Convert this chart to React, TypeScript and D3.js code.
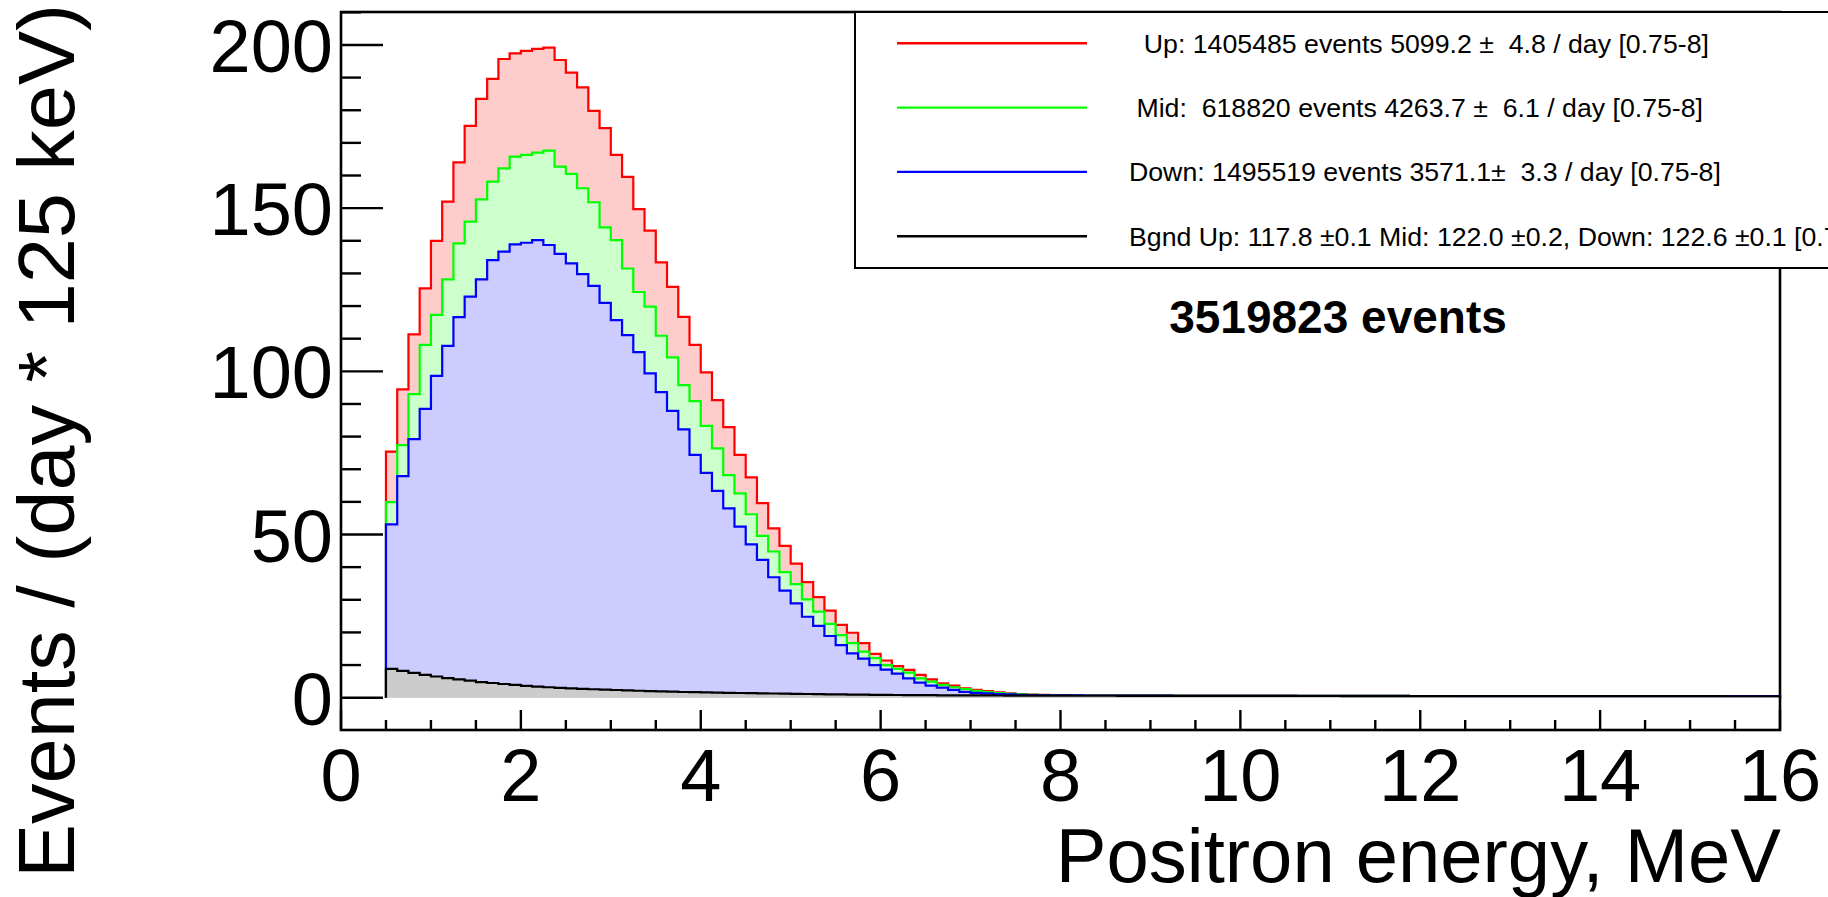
import React from "react";
import * as d3 from "d3";

// ---- data (Events per day per 125 keV bin), bins start at 0.5 MeV, width 0.125 MeV ----
const binStart = 0.5;
const binWidth = 0.125;

const upHead = [
  75.4, 94.5, 111.3, 125.4, 140.0, 152.0, 164.0, 175.2, 183.5, 189.6,
  195.7, 197.4, 198.2, 198.8, 199.2, 195.4, 191.5, 187.0, 179.8, 174.5,
  166.3, 159.6, 149.7, 143.1, 133.4, 125.9, 116.7, 108.1, 99.7, 91.2,
  82.9, 74.4, 67.5, 59.6, 51.9, 46.5, 41.1, 35.4, 30.8, 26.7,
  22.3, 19.9, 16.7, 13.4, 11.4, 9.7, 8.5, 7.0, 5.6, 4.4,
  3.7, 2.9, 2.4, 2.0, 1.6, 1.3, 1.1, 0.95, 0.85, 0.75,
];
const midHead = [
  59.9, 77.4, 93.0, 108.1, 117.3, 128.2, 139.2, 145.9, 152.7, 158.1,
  162.2, 165.8, 166.3, 167.0, 167.6, 162.7, 160.5, 156.1, 151.8, 144.1,
  140.2, 131.5, 124.3, 119.8, 110.9, 104.3, 95.8, 90.9, 83.3, 76.4,
  68.2, 62.6, 56.2, 49.6, 44.8, 38.5, 34.8, 30.1, 26.4, 22.6,
  19.2, 16.7, 14.1, 12.1, 10.0, 8.8, 7.7, 5.9, 4.9, 3.9,
  3.2, 2.6, 2.1, 1.7, 1.4, 1.2, 1.0, 0.9, 0.8, 0.75,
];
const downHead = [
  53.1, 67.9, 79.2, 88.5, 98.6, 107.8, 116.6, 122.9, 128.2, 134.1,
  136.7, 138.9, 139.4, 140.2, 138.7, 136.0, 133.1, 129.8, 126.2, 121.0,
  115.7, 111.1, 105.9, 99.4, 93.6, 87.9, 82.2, 74.4, 68.9, 63.4,
  58.0, 52.4, 47.0, 42.2, 36.9, 32.8, 28.9, 24.8, 22.0, 18.9,
  16.1, 13.6, 12.0, 10.0, 8.6, 7.4, 5.9, 4.6, 3.7, 3.1,
  2.4, 1.8, 1.5, 1.3, 1.1, 1.0, 0.9, 0.8, 0.75, 0.7,
];
// common high-energy tail (8 - 16 MeV) of the three detector positions
const signalTail = [
  0.70, 0.68, 0.67, 0.66, 0.65, 0.64, 0.63, 0.62, 0.62, 0.61,
  0.60, 0.60, 0.59, 0.59, 0.58, 0.58, 0.57, 0.57, 0.56, 0.56,
  0.56, 0.55, 0.55, 0.55, 0.54, 0.54, 0.54, 0.53, 0.53, 0.53,
  0.53, 0.52, 0.52, 0.52, 0.52, 0.51, 0.51, 0.51, 0.51, 0.50,
  0.50, 0.50, 0.50, 0.50, 0.49, 0.49, 0.49, 0.49, 0.49, 0.48,
  0.48, 0.48, 0.48, 0.48, 0.48, 0.47, 0.47, 0.47, 0.47, 0.47,
  0.47, 0.46, 0.46, 0.46,
];
const bgnd = [
  8.8, 8.2, 7.6, 7.0, 6.5, 6.0, 5.6, 5.2, 4.8, 4.5,
  4.2, 3.9, 3.65, 3.4, 3.2, 3.0, 2.85, 2.7, 2.58, 2.46,
  2.35, 2.24, 2.13, 2.03, 1.93, 1.83, 1.74, 1.68, 1.62, 1.56,
  1.5, 1.44, 1.38, 1.33, 1.28, 1.23, 1.18, 1.13, 1.08, 1.04,
  1.0, 0.96, 0.92, 0.88, 0.85, 0.82, 0.8, 0.78, 0.76, 0.74,
  0.72, 0.7, 0.69, 0.68, 0.67, 0.66, 0.65, 0.64, 0.63, 0.62,
  0.61, 0.60, 0.60, 0.59, 0.59, 0.58, 0.58, 0.57, 0.57, 0.56,
  0.56, 0.56, 0.55, 0.55, 0.55, 0.54, 0.54, 0.54, 0.53, 0.53,
  0.53, 0.52, 0.52, 0.52, 0.52, 0.51, 0.51, 0.51, 0.51, 0.50,
  0.50, 0.50, 0.50, 0.49, 0.49, 0.49, 0.49, 0.48, 0.48, 0.48,
  0.48, 0.48, 0.47, 0.47, 0.47, 0.47, 0.47, 0.46, 0.46, 0.46,
  0.46, 0.46, 0.46, 0.45, 0.45, 0.45, 0.45, 0.45, 0.45, 0.44,
  0.44, 0.44, 0.44, 0.44,
];

const upVals = upHead.concat(signalTail);
const midVals = midHead.concat(signalTail);
const downVals = downHead.concat(signalTail);

const xTicksMajor = [0, 2, 4, 6, 8, 10, 12, 14, 16];
const yTicksMajor = [0, 50, 100, 150, 200];

const legendLabels = [
  "  Up: 1405485 events 5099.2 \u00b1  4.8 / day [0.75-8]",
  " Mid:  618820 events 4263.7 \u00b1  6.1 / day [0.75-8]",
  "Down: 1495519 events 3571.1\u00b1  3.3 / day [0.75-8]",
  "Bgnd Up: 117.8 \u00b10.1 Mid: 122.0 \u00b10.2, Down: 122.6 \u00b10.1 [0.75-8]",
];
const totalLabel = "3519823 events";
const xTitle = "Positron energy, MeV";
const yTitle = "Events / (day * 125 keV)";

const series = [
  { name: "Up", values: upVals, line: "#ff0000", fill: "#ffcccc" },
  { name: "Mid", values: midVals, line: "#00ff00", fill: "#ccffcc" },
  { name: "Down", values: downVals, line: "#0000ff", fill: "#ccccff" },
  { name: "Bgnd", values: bgnd, line: "#000000", fill: "#cccccc" },
];

const W = 1828;
const H = 897;
const FONT = "'Liberation Sans', Arial, Helvetica, sans-serif";

export default function App() {
  const left = 341, right = 1780, top = 12, bottom = 730;
  const x = d3.scaleLinear().domain([0, 16]).range([left, right]);
  const y = d3.scaleLinear().domain([-9.9, 210.1]).range([bottom, top]);

  const stepPoints = (vals: number[]) => {
    const pts: [number, number][] = [];
    pts.push([x(binStart), y(0)]);
    vals.forEach((v, i) => {
      const lo = binStart + i * binWidth;
      const hi = lo + binWidth;
      pts.push([x(lo), y(v)]);
      pts.push([x(hi), y(v)]);
    });
    pts.push([x(binStart + vals.length * binWidth), y(0)]);
    return pts;
  };
  const line = d3.line<[number, number]>().x((d) => d[0]).y((d) => d[1]);

  const xMinor = d3.range(0, 16.001, 0.5);
  const yMinor = d3.range(0, 210.01, 10);

  const legX0 = 855, legY0 = 12, legH = 256;
  const rowY = (i: number) => 43.3 + i * 64.3;

  return (
    <svg width={W} height={H} style={{ position: "absolute", left: 0, top: 0, background: "#fff" }}
      fontFamily={FONT}>
      <rect x={0} y={0} width={W} height={H} fill="#fff" />
      {/* histograms */}
      {series.map((s) => {
        const pts = stepPoints(s.values);
        return (
          <g key={s.name}>
            <path d={line(pts) + "Z"} fill={s.fill} stroke="none" />
            <path d={line(pts) || ""} fill="none" stroke={s.line} strokeWidth={2.2} strokeLinejoin="miter" />
          </g>
        );
      })}

      {/* frame */}
      <rect x={left} y={top} width={right - left} height={bottom - top} fill="none" stroke="#000" strokeWidth={2.6} />

      {/* y axis ticks */}
      {yMinor.map((v) => (
        <line key={"ym" + v} x1={left} x2={left + (v % 50 === 0 ? 42 : 20)} y1={y(v)} y2={y(v)} stroke="#000" strokeWidth={2.4} />
      ))}
      {yTicksMajor.map((v) => (
        <text key={"yl" + v} x={333} y={y(v) + 27} textAnchor="end" fontSize={74} fill="#000">{v}</text>
      ))}

      {/* x axis ticks */}
      {xMinor.map((v) => (
        <line key={"xm" + v} x1={x(v)} x2={x(v)} y1={bottom} y2={bottom - (v % 2 === 0 ? 20 : 10)} stroke="#000" strokeWidth={2.4} />
      ))}
      {xTicksMajor.map((v) => (
        <text key={"xl" + v} x={x(v)} y={801} textAnchor="middle" fontSize={74} fill="#000">{v}</text>
      ))}

      {/* axis titles */}
      <text x={right + 1} y={882} textAnchor="end" fontSize={76} fill="#000">{xTitle}</text>
      <text transform={`translate(74, 4) rotate(-90)`} textAnchor="end" fontSize={79}
        textLength={874} lengthAdjust="spacingAndGlyphs" fill="#000">{yTitle}</text>

      {/* legend */}
      <rect x={legX0} y={legY0} width={W - legX0 + 20} height={legH} fill="#fff" stroke="#000" strokeWidth={2} />
      {series.map((s, i) => (
        <g key={"leg" + s.name}>
          <line x1={897} x2={1087} y1={rowY(i)} y2={rowY(i)} stroke={s.line} strokeWidth={2.4} />
          <text x={1129} y={rowY(i) + 9.5} fontSize={26.7} fill="#000" style={{ whiteSpace: "pre" }}>{legendLabels[i]}</text>
        </g>
      ))}

      {/* total events */}
      <text x={1338} y={333} textAnchor="middle" fontSize={46} fontWeight="bold" fill="#000">{totalLabel}</text>
    </svg>
  );
}
